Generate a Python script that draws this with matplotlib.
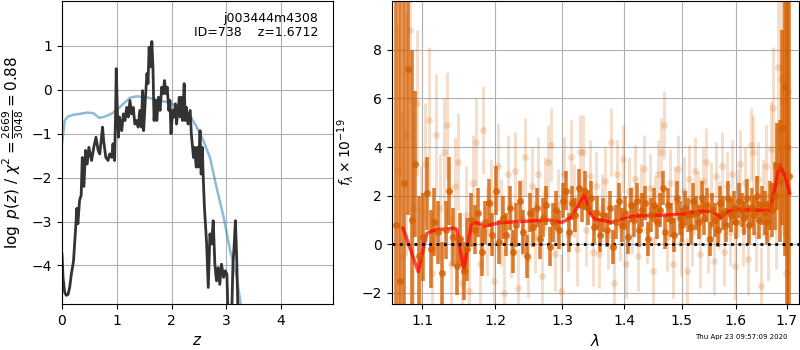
import numpy as np
import matplotlib
matplotlib.use('Agg')
import matplotlib.pyplot as plt
from matplotlib.ticker import FixedLocator, FixedFormatter, NullLocator

# p(z) curve
pz_z = [0.00, 0.02, 0.05, 0.08, 0.11, 0.14, 0.17, 0.21, 0.25, 0.27, 0.29, 0.32, 0.35,
        0.37, 0.40, 0.43, 0.46, 0.49, 0.54, 0.58, 0.62, 0.66, 0.69, 0.74, 0.76, 0.80,
        0.84, 0.87, 0.91, 0.93, 0.96, 0.98, 0.99, 1.01, 1.03, 1.05, 1.09, 1.12, 1.15,
        1.18, 1.21, 1.24, 1.27, 1.30, 1.33, 1.36, 1.39, 1.42, 1.45, 1.47, 1.49, 1.52,
        1.55, 1.57, 1.59, 1.62, 1.64, 1.66, 1.68, 1.71, 1.73, 1.76, 1.79, 1.82, 1.85,
        1.87, 1.90, 1.92, 1.95, 1.97, 1.99, 2.02, 2.04, 2.07, 2.09, 2.12, 2.14, 2.16,
        2.18, 2.20, 2.23, 2.25, 2.27, 2.30, 2.34, 2.36, 2.40, 2.42, 2.45, 2.47, 2.49,
        2.52, 2.54, 2.56, 2.58, 2.60, 2.64, 2.67, 2.70, 2.73, 2.76, 2.79, 2.82, 2.85,
        2.88, 2.91, 2.95, 2.98, 3.01, 3.04, 3.08, 3.12, 3.14, 3.165, 3.19, 3.22, 3.30]
pz_logp = [-3.74, -4.30, -4.62, -4.68, -4.66, -4.50, -4.20, -3.90, -3.13, -2.70, -3.05, -2.52, -2.40,
           -1.54, -2.20, -1.38, -1.69, -1.31, -1.61, -1.31, -1.08, -1.38, -1.46, -0.85, -1.16, -1.54,
           -1.61, -1.46, -1.54, -1.23, -1.61, -0.40, 0.48, -0.47, -1.08, -0.62, -0.93, -0.55, -0.70,
           -0.40, -0.62, -0.24, -0.55, -0.40, -0.78, -0.70, -0.85, -0.47, -0.85, -0.02, -0.93, -0.24,
           0.37, 0.14, 0.97, 0.52, 1.10, 0.52, -0.70, -0.24, -0.70, -0.17, -0.47, 0.06, -0.09,
           0.21, -0.09, 0.06, -0.47, -0.24, -1.00, -0.47, -0.62, -0.32, -0.78, -0.47, -0.17, -0.62,
           -0.17, -0.70, 0.14, -0.70, -0.40, -0.78, -0.47, -1.00, -1.54, -1.31, -1.76, -1.31, -1.76,
           -0.93, -1.92, -1.31, -2.07, -2.68, -3.51, -4.50, -3.28, -3.51, -2.98, -3.97, -4.35, -4.05,
           -4.43, -3.97, -4.27, -4.12, -4.20, -5.60, -6.00, -3.97, -3.60, -2.98, -3.89, -5.50, -6.00]

# prior curve
pr_z = [0.00, 0.05, 0.11, 0.20, 0.32, 0.45, 0.57, 0.68, 0.78, 0.90, 0.99, 1.12, 1.24,
        1.36, 1.54, 1.73, 1.91, 2.09, 2.21, 2.34, 2.46, 2.58, 2.70, 2.82, 2.95, 3.07,
        3.19, 3.30]
pr_logp = [-1.23, -0.70, -0.61, -0.57, -0.55, -0.52, -0.53, -0.64, -0.61, -0.55, -0.47, -0.32, -0.18,
           -0.15, -0.17, -0.23, -0.28, -0.36, -0.43, -0.59, -0.85, -1.16, -1.54, -2.22, -2.90, -3.67,
           -4.27, -5.20]

# binned spectrum
wave = [1.066, 1.071, 1.076, 1.081, 1.086, 1.091, 1.096, 1.101, 1.106, 1.111,
        1.116, 1.121, 1.126, 1.131, 1.136, 1.141, 1.146, 1.151, 1.156, 1.161,
        1.166, 1.171, 1.176, 1.181, 1.186, 1.191, 1.196, 1.201, 1.206, 1.211,
        1.216, 1.221, 1.226, 1.231, 1.236, 1.241, 1.246, 1.251, 1.256, 1.261,
        1.266, 1.271, 1.276, 1.281, 1.286, 1.291, 1.296, 1.301, 1.306, 1.311,
        1.316, 1.321, 1.326, 1.331, 1.336, 1.341, 1.346, 1.351, 1.356, 1.361,
        1.366, 1.371, 1.376, 1.381, 1.386, 1.391, 1.396, 1.401, 1.406, 1.411,
        1.416, 1.421, 1.426, 1.431, 1.436, 1.441, 1.446, 1.451, 1.456, 1.461,
        1.466, 1.471, 1.476, 1.481, 1.486, 1.491, 1.496, 1.501, 1.506, 1.511,
        1.516, 1.521, 1.526, 1.531, 1.536, 1.541, 1.546, 1.551, 1.556, 1.561,
        1.566, 1.571, 1.576, 1.581, 1.586, 1.591, 1.596, 1.601, 1.606, 1.611,
        1.616, 1.621, 1.626, 1.631, 1.636, 1.641, 1.646, 1.651, 1.656, 1.661,
        1.666, 1.671, 1.676, 1.681, 1.686, 1.691, 1.696, 1.701, 1.706]
flux = [0.8, -1.5, 2.5, 7.2, 1.0, 3.3, -0.5, 0.3, 2.1, -0.2,
        0.9, 0.5, -1.2, 0.6, 2.2, 0.3, -0.9, 0.2, -1.1, -0.2,
        1.0, 0.6, 1.3, -0.3, 0.9, 1.7, 0.4, 2.2, 0.1, 1.1,
        0.4, 1.5, -0.3, 0.8, 1.8, 0.5, -0.5, 1.3, 0.7, 1.5,
        0.2, 1.1, 1.6, -0.1, 0.9, 1.4, 0.6, 1.8, 2.2, 0.5,
        1.7, 1.2, 2.3, 1.6, 2.2, 1.5, 1.9, 0.7, 1.3, 0.4,
        1.2, 0.6, 1.5, -0.1, 0.9, 1.8, 0.8, 1.3, 0.3, 1.6,
        1.0, 1.8, 0.6, 1.4, 1.7, 0.2, 1.2, 1.6, 0.9, 1.4,
        2.3, 0.5, 1.6, 1.0, 0.4, 1.9, 1.1, 0.8, 1.5, 1.2,
        0.7, 1.8, 1.3, 0.9, 1.9, 1.1, 1.6, 0.2, 1.4, 1.0,
        0.6, 1.7, 1.3, 0.8, 1.9, 1.2, 1.5, 0.9, 1.8, 1.4,
        1.1, 1.9, 0.8, 1.5, 1.2, 2.0, 1.0, 1.6, 1.3, 0.9,
        1.6, 1.4, 2.0, 3.2, 2.6, 4.8, 6.5, 4.0, 2.8]
err = [14, 12, 9, 6, 7, 3.0, 2.5, 1.8, 1.5, 1.6,
       1.4, 1.3, 1.3, 1.2, 1.4, 1.2, 1.2, 1.1, 1.2, 1.3,
       1.1, 1.0, 1.0, 1.0, 0.9, 1.0, 0.9, 1.0, 0.9, 0.9,
       0.9, 0.9, 0.9, 0.9, 0.8, 0.9, 0.9, 0.8, 0.8, 0.8,
       0.8, 0.8, 0.8, 0.8, 0.8, 0.8, 0.8, 0.7, 0.8, 0.8,
       0.7, 0.7, 0.8, 0.7, 0.8, 0.7, 0.7, 0.7, 0.7, 0.7,
       0.7, 0.7, 0.7, 0.7, 0.7, 0.7, 0.7, 0.7, 0.7, 0.7,
       0.7, 0.7, 0.7, 0.7, 0.7, 0.7, 0.7, 0.7, 0.7, 0.7,
       0.7, 0.7, 0.7, 0.7, 0.7, 0.7, 0.7, 0.7, 0.7, 0.7,
       0.7, 0.7, 0.7, 0.7, 0.7, 0.7, 0.7, 0.7, 0.7, 0.7,
       0.7, 0.7, 0.7, 0.7, 0.7, 0.7, 0.7, 0.7, 0.7, 0.7,
       0.7, 0.8, 0.8, 0.8, 0.8, 0.8, 0.8, 0.8, 0.9, 0.9,
       1.0, 1.1, 1.4, 1.8, 2.5, 4.0, 7.0, 9.0, 12]

# unbinned pixels (faint)
wave_px = [1.0685, 1.0735, 1.0785, 1.0835, 1.0885, 1.0935, 1.0985, 1.1035, 1.1085, 1.1135,
           1.1185, 1.1235, 1.1285, 1.1335, 1.1385, 1.1435, 1.1485, 1.1535, 1.1585, 1.1635,
           1.1685, 1.1735, 1.1785, 1.1835, 1.1885, 1.1935, 1.1985, 1.2035, 1.2085, 1.2135,
           1.2185, 1.2235, 1.2285, 1.2335, 1.2385, 1.2435, 1.2485, 1.2535, 1.2585, 1.2635,
           1.2685, 1.2735, 1.2785, 1.2835, 1.2885, 1.2935, 1.2985, 1.3035, 1.3085, 1.3135,
           1.3185, 1.3235, 1.3285, 1.3335, 1.3385, 1.3435, 1.3485, 1.3535, 1.3585, 1.3635,
           1.3685, 1.3735, 1.3785, 1.3835, 1.3885, 1.3935, 1.3985, 1.4035, 1.4085, 1.4135,
           1.4185, 1.4235, 1.4285, 1.4335, 1.4385, 1.4435, 1.4485, 1.4535, 1.4585, 1.4635,
           1.4685, 1.4735, 1.4785, 1.4835, 1.4885, 1.4935, 1.4985, 1.5035, 1.5085, 1.5135,
           1.5185, 1.5235, 1.5285, 1.5335, 1.5385, 1.5435, 1.5485, 1.5535, 1.5585, 1.5635,
           1.5685, 1.5735, 1.5785, 1.5835, 1.5885, 1.5935, 1.5985, 1.6035, 1.6085, 1.6135,
           1.6185, 1.6235, 1.6285, 1.6335, 1.6385, 1.6435, 1.6485, 1.6535, 1.6585, 1.6635,
           1.6685, 1.6735, 1.6785, 1.6835, 1.6885, 1.6935, 1.6985, 1.7035]
flux_px = [3.0, -0.5, 4.5, 8.8, 1.5, 5.8, 0.2, 3.3, 5.1, -1.2,
           4.5, 1.5, 3.8, 4.9, -0.8, 2.4, 3.4, -1.6, 1.2, -1.9,
           2.5, 4.2, -0.8, 4.7, 0.5, 1.7, -1.5, 3.2, 0.9, -2.0,
           2.9, 0.2, 3.0, -1.8, 1.1, 3.6, -0.6, 2.4, 0.3, 2.9,
           -1.3, 2.1, 3.4, 4.1, -0.4, 1.6, -1.9, 2.9, 0.4, 3.6,
           1.8, -0.2, 3.8, 3.8, 0.6, 2.8, -0.3, 2.4, -0.4, 1.5,
           2.6, 0.4, 4.2, -1.6, 2.9, 0.7, 3.5, -0.8, 2.2, 1.0,
           2.7, -0.5, 1.9, 3.1, 0.6, 2.3, -1.1, 1.4, 2.9, 3.8,
           4.9, 0.3, 2.5, -0.8, 1.8, 3.1, 0.1, 2.2, -1.1, 2.7,
           0.5, 3.0, 1.6, -0.4, 2.6, 3.4, 0.2, 2.0, -0.7, 2.8,
           1.2, 3.2, -0.3, 2.4, 0.5, 2.9, -0.9, 1.7, 3.3, 0.6,
           2.5, -0.6, 4.1, 3.8, 0.4, 2.7, -1.7, 1.9, 3.2, 0.3,
           3.9, 5.6, 2.0, 7.3, 6.8, 5.9, -1.2, 6.3]
err_px = [6, 6, 5, 3, 4, 3, 3, 2.5, 3, 2.5,
          2.5, 2.2, 2.2, 2.2, 2.0, 2.0, 2.0, 2.0, 2.0, 2.0,
          2.0, 1.8, 1.8, 1.8, 1.8, 1.8, 1.8, 1.8, 1.8, 1.8,
          1.6, 1.6, 1.6, 1.6, 1.6, 1.6, 1.6, 1.6, 1.5, 1.5,
          1.5, 1.5, 1.5, 1.5, 1.5, 1.5, 1.5, 1.5, 1.5, 1.5,
          1.5, 1.5, 1.5, 1.5, 1.5, 1.5, 1.4, 1.4, 1.4, 1.4,
          1.4, 1.4, 1.4, 1.4, 1.4, 1.4, 1.4, 1.4, 1.4, 1.4,
          1.4, 1.4, 1.4, 1.4, 1.4, 1.4, 1.4, 1.4, 1.4, 1.4,
          1.4, 1.4, 1.4, 1.4, 1.4, 1.4, 1.4, 1.4, 1.4, 1.4,
          1.4, 1.4, 1.4, 1.4, 1.4, 1.4, 1.4, 1.4, 1.4, 1.4,
          1.4, 1.4, 1.4, 1.4, 1.4, 1.4, 1.4, 1.4, 1.4, 1.5,
          1.5, 1.5, 1.5, 1.5, 1.5, 1.5, 1.6, 1.6, 1.7, 1.8,
          2.0, 2.5, 3.0, 3.5, 4.5, 5.5, 6, 7]

# best-fit model
model_wave = [1.075, 1.0947, 1.106, 1.1168, 1.1414, 1.146, 1.156, 1.1665, 1.1734, 1.185,
              1.2067, 1.2797, 1.30, 1.3155, 1.3353, 1.3443, 1.3523, 1.3683, 1.3792, 1.40,
              1.4167, 1.50, 1.5368, 1.5555, 1.5714, 1.5875, 1.6037, 1.6669, 1.677, 1.686,
              1.6975, 1.7064]
model_flux = [0.66, -1.12, 0.45, 0.59, 0.66, 0.62, -1.05, 0.86, 0.89, 0.75,
              0.89, 1.00, 0.90, 1.14, 2.03, 1.27, 1.03, 0.97, 0.90, 1.07,
              1.16, 1.23, 1.37, 1.34, 1.11, 1.38, 1.44, 1.38, 2.37, 3.26,
              2.78, 2.10]

obj_name = 'j003444m4308'
obj_id = 738
z_best = 1.6712
chi2_num, chi2_den = 2669, 3048
stamp = 'Thu Apr 23 09:57:09 2020'

fig = plt.figure(figsize=(8, 3.5), dpi=100)
ax = fig.add_axes([0.0775, 0.131, 0.339, 0.866])
ax2 = fig.add_axes([0.4896, 0.131, 0.5094, 0.866])

# left: p(z)
ax.plot(pr_z, pr_logp, color='tab:blue', alpha=0.5, lw=1.8)
ax.plot(pz_z, pz_logp, color='0.2', lw=2)
ax.set_xlim(0, 4.95)
ax.set_ylim(-4.88, 2.02)
ax.set_xticks([0, 1, 2, 3, 4])
ax.set_yticks([-4, -3, -2, -1, 0, 1])
ax.grid(True)
ax.set_xlabel('$z$', fontsize=11)
ax.set_ylabel(r'$\log\ p(z)$ / $\chi^2=\frac{%d}{%d}=%.2f$'
              % (chi2_num, chi2_den, chi2_num / chi2_den), fontsize=11)
ax.text(0.945, 0.965, '%s\nID=%d    z=%.4f' % (obj_name, obj_id, z_best),
        transform=ax.transAxes, ha='right', va='top', fontsize=9, linespacing=1.15)

# right: spectrum
col = (0.835, 0.369, 0.0)
ax2.errorbar(wave_px, flux_px, yerr=err_px, fmt='o', color=col, alpha=0.2,
             ms=5, elinewidth=2.2, capsize=0, mec='none')
ax2.errorbar(wave, flux, yerr=err, fmt='o', color=col, alpha=0.8,
             ms=5, elinewidth=2.6, capsize=0, mec='none')
ax2.plot(model_wave, model_flux, color='r', alpha=0.7, lw=2.5)
ax2.axhline(0, color='k', ls=':', lw=2)
ax2.set_xscale('log')
ax2.set_xlim(1.0605, 1.726)
ax2.set_ylim(-2.46, 10)
ticks = [1.1, 1.2, 1.3, 1.4, 1.5, 1.6, 1.7]
ax2.xaxis.set_major_locator(FixedLocator(ticks))
ax2.xaxis.set_major_formatter(FixedFormatter(['%.1f' % t for t in ticks]))
ax2.xaxis.set_minor_locator(NullLocator())
ax2.set_yticks([-2, 0, 2, 4, 6, 8])
ax2.grid(True)
ax2.set_xlabel(r'$\lambda$', fontsize=11)
ax2.set_ylabel(r'$f_\lambda\times10^{-19}$', fontsize=10)

fig.text(0.984, 0.028, stamp, ha='right', va='bottom', fontsize=5)

fig.savefig('out.png', dpi=100)
